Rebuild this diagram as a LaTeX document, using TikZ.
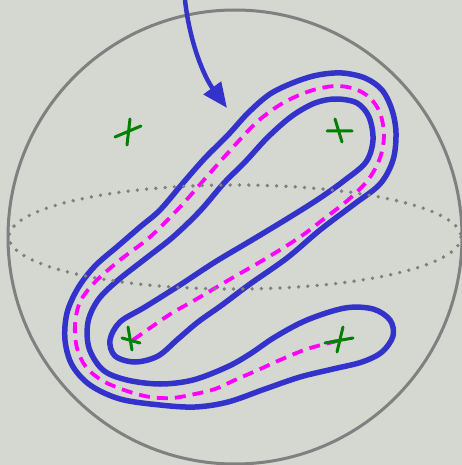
\documentclass[tikz,border=0pt]{standalone}
\usepackage{tikz}
\usetikzlibrary{arrows.meta}
\definecolor{paper}{RGB}{213,216,209}
\definecolor{rimgray}{RGB}{128,128,128}
\definecolor{tubeblue}{RGB}{51,51,204}
\definecolor{pathpink}{RGB}{255,0,255}
\definecolor{markgreen}{RGB}{0,128,0}

\begin{document}
\begin{tikzpicture}[
    x=1pt, y=-1pt,
    rim/.style={draw=rimgray, line width=3pt},
    equator/.style={draw=rimgray, line width=3.8pt, line cap=round,
                    dash pattern=on 0pt off 9.3pt},
    tubeline/.style={draw=tubeblue, line width=5.5pt, line join=round},
    midline/.style={draw=pathpink, line width=3.8pt, dash pattern=on 11pt off 7pt},
    xmk/.style={draw=markgreen, line width=3pt, line cap=round},
    pointer/.style={draw=tubeblue, line width=4.5pt, line cap=round,
                    -{Triangle[length=25pt,width=21pt]}}
]
    \fill[paper] (0,0) rectangle (462,465);
    \useasboundingbox (0,0) rectangle (462,465);

    \coordinate (centre) at (235,237);
    \draw[rim] (centre) circle[radius=227];

    \draw[tubeline] plot[smooth cycle, tension=0.55] coordinates {
        (342,73) (318,75) (295,82) (270,94) (248,113) (228,135) (205,158)
        (183,183) (160,210) (140,227) (118,246) (95,266) (78,288) (67,313)
        (65,340) (72,365) (90,385) (120,399) (160,405) (195,407) (228,402)
        (265,389) (300,377) (333,369) (362,362) (382,352) (393,336) (390,320)
        (373,309) (345,308) (307,320) (275,337) (250,354) (227,367) (193,380)
        (160,384) (127,380) (103,370) (89,348) (88,322) (98,300) (117,281)
        (145,259) (173,237) (200,211) (224,183) (245,162) (268,137) (292,116)
        (315,103) (336,99) (357,103) (369,117) (373,140) (366,162) (345,180)
        (320,198) (290,217) (252,240) (215,262) (180,285) (145,307) (120,322)
        (110,340) (115,356) (135,362) (158,356) (178,339) (198,322) (222,305)
        (250,284) (287,258) (320,230) (353,205) (380,184) (393,160) (396,133)
        (392,110) (382,90) (365,78)};

    \draw[midline] plot[smooth, tension=0.55] coordinates {
        (133,340) (150,328) (172,313) (195,300) (227,281) (265,259) (300,237)
        (325,218) (348,200) (368,180) (380,158) (384,135) (380,113) (370,98)
        (355,89) (335,86) (310,91) (283,103) (258,121) (235,145) (210,173)
        (180,207) (150,237) (120,260) (95,282) (80,302) (75,325) (77,348)
        (86,367) (103,381) (127,391) (150,397) (172,398) (195,394) (215,389)
        (235,380) (258,370) (280,360) (307,349) (337,341)};

    \coordinate (x1) at (128,131);
    \coordinate (x2) at (340,131);
    \coordinate (x3) at (130,340);
    \coordinate (x4) at (339,340);
    \draw[xmk] (x1) ++(-13,6) -- ++(26,-11) (x1) ++(2,-12) -- ++(-3,26);
    \draw[xmk] (x2) ++(-13,0) -- ++(25,0) (x2) ++(-5,-12) -- ++(7,23);
    \draw[xmk] (x3) ++(-8,-2) -- ++(18,5) (x3) ++(-2,-13) -- ++(4,23);
    \draw[xmk] (x4) ++(-14,3) -- ++(28,-5) (x4) ++(4,-13) -- ++(-6,25);

    \draw[equator] (centre) ellipse[x radius=226, y radius=52];

    \coordinate (from) at (185,0);
    \coordinate (tip) at (227,108);
    \draw[pointer] (from) .. controls (190,45) and (205,78) .. (tip);
\end{tikzpicture}
\end{document}
